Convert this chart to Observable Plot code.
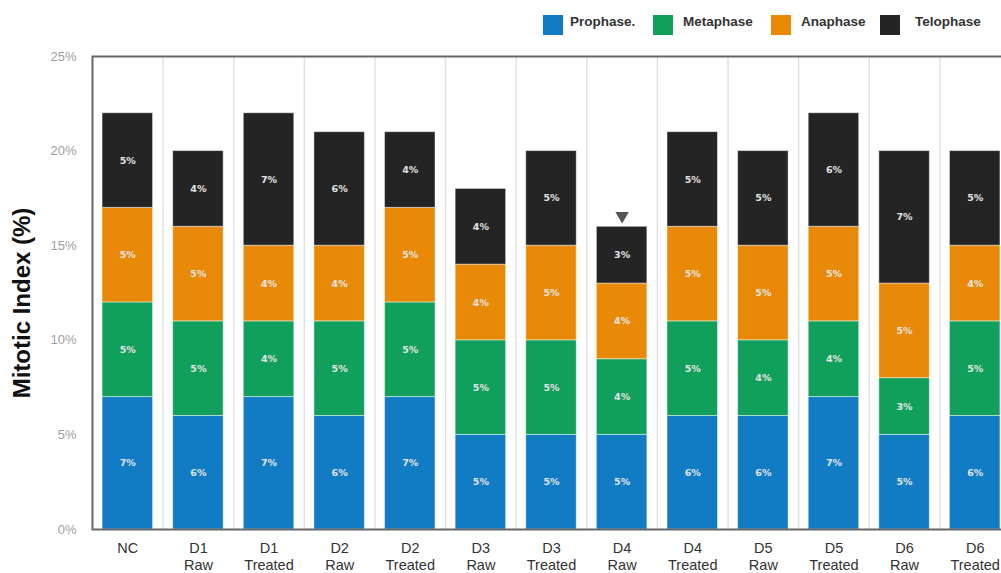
<!DOCTYPE html>
<html>
<head>
<meta charset="utf-8">
<script src="https://cdn.jsdelivr.net/npm/d3@7"></script>
<script src="https://cdn.jsdelivr.net/npm/@observablehq/plot@0.6"></script>
<style>
  html, body { margin: 0; padding: 0; background: #fff; overflow: hidden; width: 1001px; height: 573px; }
  #legend { position: relative; height: 40px; font-family: "Liberation Sans", Arial, sans-serif; font-weight: bold; font-size: 13.5px; color: #333; }
  .item { position: absolute; top: 15px; display: flex; align-items: flex-start; }
  .sw { width: 20px; height: 20px; }
  .lbl { margin-top: -1px; }
</style>
</head>
<body>
<div id="legend"></div>
<div id="chart"></div>
<script>
const categories = ["NC", "D1\nRaw", "D1\nTreated", "D2\nRaw", "D2\nTreated", "D3\nRaw", "D3\nTreated", "D4\nRaw", "D4\nTreated", "D5\nRaw", "D5\nTreated", "D6\nRaw", "D6\nTreated"];
const phases = ["Prophase.", "Metaphase", "Anaphase", "Telophase"];
const colors = ["#117CC4", "#11A05C", "#E88A08", "#242424"];
const prophase  = [7, 6, 7, 6, 7, 5, 5, 5, 6, 6, 7, 5, 6];
const metaphase = [5, 5, 4, 5, 5, 5, 5, 4, 5, 4, 4, 3, 5];
const anaphase  = [5, 5, 4, 4, 5, 4, 5, 4, 5, 5, 5, 5, 4];
const telophase = [5, 4, 7, 6, 4, 4, 5, 3, 5, 5, 6, 7, 5];
const yTicks = [0, 5, 10, 15, 20, 25];
const markedCategory = "D4\nRaw";

const series = [prophase, metaphase, anaphase, telophase];
const data = [];
phases.forEach((p, i) => categories.forEach((c, j) => data.push({cat: c, phase: p, value: series[i][j]})));
const totals = categories.map((c, j) => ({cat: c, value: series.reduce((s, a) => s + a[j], 0)}));
const marker = totals.filter(d => d.cat === markedCategory);

// legend
const legend = document.getElementById("legend");
const legendLeft = [543, 653, 771, 880];
const legendGap = [7, 10, 10, 15];
phases.forEach((p, i) => {
  const it = document.createElement("div");
  it.className = "item";
  it.style.left = legendLeft[i] + "px";
  it.innerHTML = `<div class="sw" style="background:${colors[i]}"></div><div class="lbl" style="margin-left:${legendGap[i]}px">${p}</div>`;
  legend.appendChild(it);
});

const chart = Plot.plot({
  width: 1010,
  height: 533,
  marginLeft: 92,
  marginRight: 0,
  marginTop: 16,
  marginBottom: 44,
  style: {maxWidth: "none", fontFamily: "Liberation Sans, Arial, sans-serif", overflow: "visible"},
  x: {domain: categories, paddingInner: 0.285, paddingOuter: 0.1425, round: false, label: null},
  y: {domain: [0, 25], label: null},
  color: {domain: phases, range: colors},
  marks: [
    Plot.ruleX(categories.slice(1), {x: d => d, dx: -35.3, stroke: "#e2e2e2", strokeWidth: 1.5}),
    Plot.barY(data, Plot.stackY({x: "cat", y: "value", z: "phase", fill: "phase", stroke: "#fff", strokeOpacity: 0.45, strokeWidth: 1})),
    Plot.text(data, Plot.stackY({x: "cat", y: "value", z: "phase", text: d => d.value + "%", fill: "#e4e4e4", fontSize: 9.5, fontWeight: "bold", fontFamily: "DejaVu Sans"})),
    Plot.dot(marker, {x: "cat", y: "value", dy: -11, symbol: "triangle", rotate: 180, r: 5, fill: "#555", stroke: "none"}),
    Plot.frame({stroke: "#666", strokeWidth: 2}),
    Plot.axisY({ticks: yTicks, tickFormat: d => d + "%", tickSize: 0, tickPadding: 16, fontSize: 13, color: "#a0a0a0", label: null}),
    Plot.axisX({tickSize: 0, tickPadding: 11, fontSize: 14.5, color: "#333", lineHeight: 1.17, label: null}),
    Plot.text(["Mitotic Index (%)"], {frameAnchor: "left", textAnchor: "middle", rotate: -90, dx: -70, dy: 10, fontSize: 24, fontWeight: "bold", fill: "#111"})
  ]
});
document.getElementById("chart").appendChild(chart);
</script>
</body>
</html>
